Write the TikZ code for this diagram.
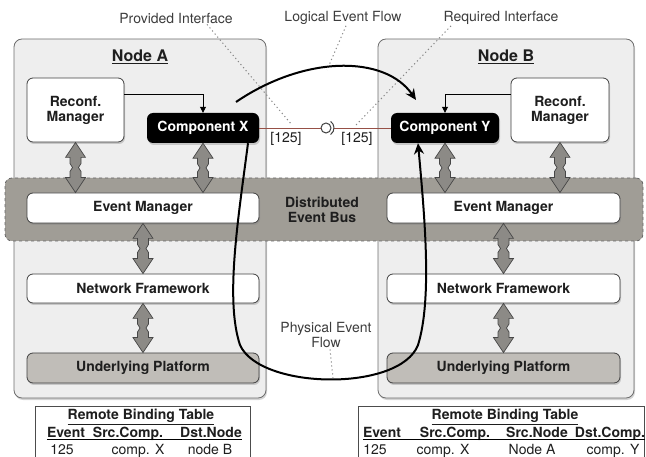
\documentclass[tikz,border=0pt]{standalone}
\usepackage{fontspec}
\setmainfont{TeX Gyre Heros}
\usetikzlibrary{calc,shadows,arrows.meta}
\definecolor{nodefill}{RGB}{238,238,238}
\definecolor{nodeborder}{RGB}{110,110,110}
\definecolor{busfill}{RGB}{160,157,150}
\definecolor{platfill}{RGB}{192,189,184}
\definecolor{arrfill}{RGB}{140,138,134}
\definecolor{arrborder}{RGB}{70,70,70}
\definecolor{txt}{RGB}{30,30,30}
\definecolor{lbl}{RGB}{60,60,60}
\definecolor{iface}{RGB}{150,80,70}
\definecolor{dotc}{RGB}{135,135,135}
\begin{document}
\begin{tikzpicture}[x=1pt,y=-1pt,
  font=\fontsize{14}{15}\selectfont, text=txt,
  shad/.style={drop shadow={shadow xshift=1pt,shadow yshift=-2pt,opacity=0.35}},
  nodebox/.style={draw=nodeborder,fill=nodefill,rounded corners=8pt,line width=0.8pt,shad,inner sep=0pt},
  busbox/.style={draw=black!60,dashed,line width=0.8pt,fill=busfill,rounded corners=7pt,inner sep=0pt},
  inbox/.style={draw=black!75,fill=white,rounded corners=6pt,line width=0.8pt,shad,inner sep=0pt,
    font=\fontsize{14}{15}\selectfont\bfseries,align=center,minimum height=30pt},
  platbox/.style={inbox,fill=platfill},
  compbox/.style={fill=black,text=white,rounded corners=6pt,shad,inner sep=0pt,
    font=\fontsize{14}{15}\selectfont\bfseries,minimum height=30pt},
  lblnode/.style={text=lbl,inner sep=1pt},
  dotline/.style={draw=dotc,line width=1pt,dash pattern=on 1.2pt off 2.8pt},
  flow/.style={line width=2pt,-{Stealth[length=11pt,width=10pt]}},
  ctrl/.style={line width=0.8pt,-{Triangle[length=6pt,width=6pt]}},
  ifline/.style={draw=iface,line width=0.7pt},
  cell/.style={inner sep=0pt,anchor=base},
  hcell/.style={cell,font=\fontsize{14}{15}\selectfont\bfseries},
  dblarrow/.style={draw=arrborder,fill=arrfill,line width=0.7pt,
    to path={let \p1=(\tikztostart),\p2=(\tikztotarget),\p3=($(\tikztostart)!0.5!(\tikztotarget)$) in
      (\x1,\y1) -- (\x1+10pt,\y1-15pt) -- (\x1+5.5pt,\y1-15pt) -- (\x1+5.5pt,\y3+4pt) -- (\x1+3pt,\y3)
      -- (\x1+5.5pt,\y3-4pt) -- (\x1+5.5pt,\y2+15pt) -- (\x1+10pt,\y2+15pt) -- (\x1,\y2)
      -- (\x1-10pt,\y2+15pt) -- (\x1-5.5pt,\y2+15pt) -- (\x1-5.5pt,\y3-4pt) -- (\x1-3pt,\y3)
      -- (\x1-5.5pt,\y3+4pt) -- (\x1-5.5pt,\y1-15pt) -- (\x1-10pt,\y1-15pt) -- cycle}}
]
\useasboundingbox (0,0) rectangle (646,457);
\clip (0,0) rectangle (646,457);

% node containers
\node[nodebox,minimum width=252pt,minimum height=359pt] (nA) at (140,218.5) {};
\node[nodebox,minimum width=256pt,minimum height=359pt] (nB) at (506,218.5) {};
\node (tA) at (140,57) {\fontsize{16}{18}\selectfont\bfseries\underline{Node A}};
\node (tB) at (506,57) {\fontsize{16}{18}\selectfont\bfseries\underline{Node B}};

% bus
\node[busbox,minimum width=638pt,minimum height=63pt] (bus) at (324,209.5) {};
\node[align=center,font=\fontsize{14}{15}\selectfont\bfseries] (busl) at (322,209.5) {Distributed\\Event Bus};

% inner boxes
\node[inbox,minimum width=97pt,minimum height=64pt] (rmA) at (75.5,110) {Reconf.\\Manager};
\node[inbox,minimum width=98pt,minimum height=64pt] (rmB) at (560,110) {Reconf.\\Manager};
\node[compbox,minimum width=112pt] (cx) at (203,128) {Component X};
\node[compbox,minimum width=108pt] (cy) at (445,128) {Component Y};
\node[inbox,minimum width=232pt] (emA) at (143,208) {Event Manager};
\node[inbox,minimum width=233pt] (emB) at (503.5,208) {Event Manager};
\node[inbox,minimum width=232pt,minimum height=29pt] (nfA) at (143,288.5) {Network Framework};
\node[inbox,minimum width=233pt,minimum height=29pt] (nfB) at (503.5,288.5) {Network Framework};
\node[platbox,minimum width=232pt] (upA) at (143,368) {Underlying Platform};
\node[platbox,minimum width=233pt] (upB) at (503.5,368) {Underlying Platform};

% double arrows
\path[dblarrow] (rmA.south) to (rmA.south |- emA.north);
\path[dblarrow] (cx.south) to (cx.south |- emA.north);
\path[dblarrow] (emA.south) to (nfA.north);
\path[dblarrow] (nfA.south) to (upA.north);
\path[dblarrow] (rmB.south) to (rmB.south |- emB.north);
\path[dblarrow] (cy.south) to (cy.south |- emB.north);
\path[dblarrow] (emB.south) to (nfB.north);
\path[dblarrow] (nfB.south) to (upB.north);

% reconfiguration control
\draw[ctrl] ([yshift=16pt]rmA.east) -| (cx.north);
\draw[ctrl] ([yshift=16pt]rmB.west) -| (cy.north);

% interface
\node[circle,draw=black!75,line width=1pt,fill=white,minimum size=10pt,inner sep=0pt] (ic) at (326,128) {};
\coordinate (sock) at ($(ic.center)+(8pt,0)$);
\draw[ifline] (cx.east) -- (ic.west);
\draw[ifline] (sock) -- (cy.west);
\draw[black!75,line width=1pt] (ic.center) ++(-55:8pt) arc[start angle=-55,end angle=55,radius=8pt];
\node (l1) at (286,139) {[125]};
\node (l2) at (357,139) {[125]};

% top labels and dotted leaders
\node[lblnode] (pi) at (176,18) {Provided Interface};
\node[lblnode] (lef) at (343,18) {Logical Event Flow};
\node[lblnode] (ri) at (501,18) {Required Interface};
\coordinate (piend) at (292,125);
\coordinate (lefend) at (327,70);
\coordinate (riend) at (356,125);
\draw[dotline] ([xshift=31pt]pi.south) -- (piend);
\draw[dotline] ([xshift=3pt]lef.south) -- (lefend);
\draw[dotline] ([xshift=-50pt]ri.south) -- (riend);

% logical flow
\coordinate (ls) at (236,102);
\coordinate (le) at (416,100);
\draw[flow] (ls) .. controls (305,55) and (385,55) .. (le);

% physical flow
\draw[flow] ([xshift=45pt]cx.south) .. controls (238,220) and (225,300) .. (240,345)
  .. controls (260,390) and (400,392) .. (418,345)
  .. controls (432,300) and (425,220) .. ([xshift=-27pt]cy.south);
\node[lblnode,align=center,font=\fontsize{14}{15}\selectfont] (pef) at (326,335.5) {Physical Event\\Flow};
\coordinate (pefend) at (333,378);
\draw[dotline] ([xshift=4pt]pef.south) -- (pefend);

% tables
\node[draw=black!70,line width=0.8pt,minimum width=215pt,minimum height=70pt,anchor=north west,inner sep=0pt] (tabA) at (35,406) {};
\node[cell] (tAt) at (141,420) {\bfseries\underline{Remote Binding Table}};
\node[hcell] (tAh1) at (66,437) {Event};
\node[hcell] (tAh2) at (128,437) {Src.Comp.};
\node[hcell] (tAh3) at (211,437) {Dst.Node};
\draw[line width=0.8pt] ([yshift=-2pt]tAh1.base west) -- ([yshift=-2pt]tAh3.base east);
\node[cell] (tAd1) at (62,454) {125};
\node[cell] (tAd2) at (138,454) {comp. X};
\node[cell] (tAd3) at (210,454) {node B};

\node[draw=black!70,line width=0.8pt,minimum width=286pt,minimum height=70pt,anchor=north west,inner sep=0pt] (tabB) at (358,406) {};
\node[cell] (tBt) at (505,420) {\bfseries\underline{Remote Binding Table}};
\node[hcell] (tBh1) at (382,437) {Event};
\node[hcell] (tBh2) at (455,437) {Src.Comp.};
\node[hcell] (tBh3) at (537,437) {Src.Node};
\node[hcell] (tBh4) at (610,437) {Dst.Comp.};
\draw[line width=0.8pt] ([yshift=-2pt]tBh1.base west) -- ([yshift=-2pt]tBh4.base east);
\node[cell] (tBd1) at (375,454) {125};
\node[cell] (tBd2) at (443,454) {comp. X};
\node[cell] (tBd3) at (532,454) {Node A};
\node[cell] (tBd4) at (613,454) {comp. Y};
\end{tikzpicture}
\end{document}
